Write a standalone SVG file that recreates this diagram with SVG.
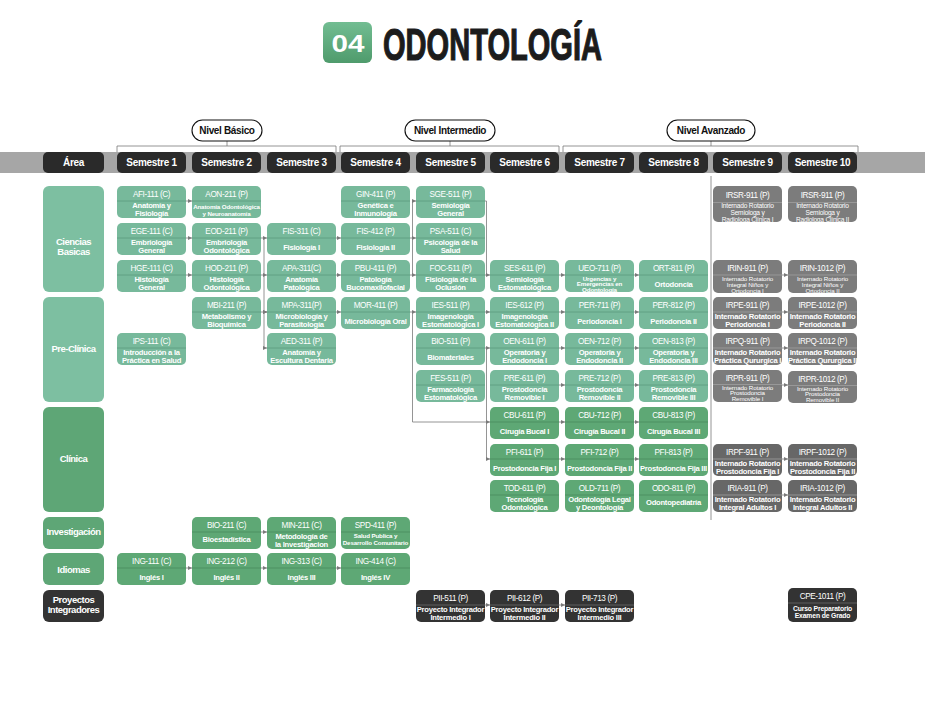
<svg xmlns="http://www.w3.org/2000/svg" width="925" height="715" viewBox="0 0 925 715">
<defs>
<linearGradient id="g04" x1="0" y1="0" x2="0" y2="1"><stop offset="0" stop-color="#72bd92"/><stop offset="1" stop-color="#4f9b6c"/></linearGradient>
<marker id="ar" markerWidth="4" markerHeight="4" refX="4" refY="2" orient="auto" markerUnits="userSpaceOnUse"><path d="M0,0 L4,2 L0,4 z" fill="#7a7a7a"/></marker>
<style>
text{font-family:"Liberation Sans",Arial,sans-serif;fill:#fff;text-anchor:middle}
.lg{fill:#77b99b}.dg{fill:#5ea875}.gy{fill:#7c7c7c}.gy2{fill:#676767}.dk{fill:#333}.hd{fill:#2a2a2a}
.al{fill:#7dbfa1}.ad{fill:#5ea676}
.dv{stroke:#5a9a7d;stroke-width:0.8}.dv2{stroke:#4a8a5e;stroke-width:0.8}.dvg{stroke:#a0a0a0;stroke-width:0.8}.dvk{stroke:#6a6a6a;stroke-width:0.8}
.cd{font-size:8.2px;letter-spacing:-0.4px}
.nm{font-size:7.6px;font-weight:bold;letter-spacing:-0.25px}
.sm{font-size:6.6px;letter-spacing:-0.2px}
.sm3{font-size:6.2px;letter-spacing:-0.1px}
.smb{font-size:6.2px;font-weight:bold;letter-spacing:-0.15px}
.ar{font-size:9.5px;font-weight:bold;letter-spacing:-0.5px}
.sh{font-size:10px;font-weight:bold;letter-spacing:-0.3px}
.nv{font-size:10px;font-weight:bold;letter-spacing:-0.35px;fill:#111}
.cn{stroke:#7a7a7a;stroke-width:0.8;fill:none}
.ca{stroke:#7a7a7a;stroke-width:0.8;fill:none;marker-end:url(#ar)}
</style>
</defs>
<rect width="925" height="715" fill="#fff"/>
<g id="title">
<rect x="323" y="22" width="49" height="41" rx="6" fill="url(#g04)"/>
<text x="348" y="51.7" font-size="24" font-weight="bold" textLength="33" lengthAdjust="spacingAndGlyphs">04</text>
<text x="383" y="60" font-size="44" font-weight="bold" style="fill:#1c1c1c;text-anchor:start" stroke="#1c1c1c" stroke-width="1.2" textLength="219" lengthAdjust="spacingAndGlyphs">ODONTOLOGÍA</text>
</g>
<g id="band"><rect x="0" y="152" width="925" height="21" fill="#a6a6a6"/></g>
<g id="levels">
<path class="cn" d="M117,152 V146 H336 V152 M227,141 V146 M340,152 V146 H559 V152 M450,141 V146 M563,152 V146 H858 V152 M711,141 V146 M711,176 V520"/>
<g id="nivel-basico"><rect x="192" y="120" width="70" height="21" rx="10.5" fill="#fff" stroke="#111" stroke-width="1.1"/><text class="nv" x="227" y="134.3">Nivel Básico</text></g>
<g id="nivel-intermedio"><rect x="405" y="120" width="90" height="21" rx="10.5" fill="#fff" stroke="#111" stroke-width="1.1"/><text class="nv" x="450" y="134.3">Nivel Intermedio</text></g>
<g id="nivel-avanzado"><rect x="667" y="120" width="88" height="21" rx="10.5" fill="#fff" stroke="#111" stroke-width="1.1"/><text class="nv" x="711" y="134.3">Nivel Avanzado</text></g>
</g>
<g id="headers">
<g id="h-area"><rect class="hd" x="43" y="152" width="61" height="21" rx="5"/><text class="sh" x="73.5" y="166.3">Área</text></g>
<g id="h-s1"><rect class="hd" x="117" y="152" width="69" height="21" rx="5"/><text class="sh" x="151.5" y="166.3">Semestre 1</text></g>
<g id="h-s2"><rect class="hd" x="192" y="152" width="69" height="21" rx="5"/><text class="sh" x="226.5" y="166.3">Semestre 2</text></g>
<g id="h-s3"><rect class="hd" x="267" y="152" width="69" height="21" rx="5"/><text class="sh" x="301.5" y="166.3">Semestre 3</text></g>
<g id="h-s4"><rect class="hd" x="341" y="152" width="69" height="21" rx="5"/><text class="sh" x="375.5" y="166.3">Semestre 4</text></g>
<g id="h-s5"><rect class="hd" x="416" y="152" width="69" height="21" rx="5"/><text class="sh" x="450.5" y="166.3">Semestre 5</text></g>
<g id="h-s6"><rect class="hd" x="490" y="152" width="69" height="21" rx="5"/><text class="sh" x="524.5" y="166.3">Semestre 6</text></g>
<g id="h-s7"><rect class="hd" x="565" y="152" width="69" height="21" rx="5"/><text class="sh" x="599.5" y="166.3">Semestre 7</text></g>
<g id="h-s8"><rect class="hd" x="639" y="152" width="69" height="21" rx="5"/><text class="sh" x="673.5" y="166.3">Semestre 8</text></g>
<g id="h-s9"><rect class="hd" x="713" y="152" width="69" height="21" rx="5"/><text class="sh" x="747.5" y="166.3">Semestre 9</text></g>
<g id="h-s10"><rect class="hd" x="788" y="152" width="69" height="21" rx="5"/><text class="sh" x="822.5" y="166.3">Semestre  10</text></g>
</g>
<g id="areas">
<g id="a-cb"><rect class="al" x="43" y="186" width="61" height="106" rx="6"/><text class="ar" x="73.5" y="244.6">Ciencias</text><text class="ar" x="73.5" y="255">Basicas</text></g>
<g id="a-pc"><rect class="al" x="43" y="297" width="61" height="105" rx="6"/><text class="ar" x="73.5" y="351.7">Pre-Clínica</text></g>
<g id="a-cl"><rect class="ad" x="43" y="407" width="61" height="105" rx="6"/><text class="ar" x="73.5" y="461.7">Clínica</text></g>
<g id="a-inv"><rect class="ad" x="43" y="517" width="61" height="32" rx="6"/><text class="ar" x="73.5" y="535.1">Investigación</text></g>
<g id="a-idi"><rect class="ad" x="43" y="553" width="61" height="32" rx="6"/><text class="ar" x="73.5" y="573.4">Idiomas</text></g>
<g id="a-pi"><rect class="dk" x="43" y="590" width="61" height="32" rx="6"/><text class="ar" x="73.5" y="603.4">Proyectos</text><text class="ar" x="73.5" y="612.6">Integradores</text></g>
</g>
<g id="connectors">
<path class="ca" d="M186,201 H192"/>
<path class="ca" d="M186,238 H192"/><path class="ca" d="M261,238 H267"/><path class="ca" d="M336,238 H341"/>
<path class="cn" d="M410,238 H412.5 M412.5,201 V275"/><path class="ca" d="M412.5,201 H416"/><path class="ca" d="M412.5,238 H416"/>
<path class="cn" d="M264,238 V348"/><path class="ca" d="M264,348 H267"/><path class="ca" d="M264,312 H267"/>
<path class="ca" d="M186,275 H192"/><path class="ca" d="M261,275 H267"/><path class="ca" d="M336,275 H341"/><path class="ca" d="M410,275 H416"/>
<path class="cn" d="M485,201 H486.5 V275"/><path class="ca" d="M485,275 H490"/><path class="ca" d="M559,275 H565"/><path class="ca" d="M634,275 H639"/><path class="ca" d="M782,275 H788"/>
<path class="ca" d="M261,312 H267"/><path class="ca" d="M336,312 H341"/>
<path class="cn" d="M410,312 H412.5 V422"/><path class="ca" d="M412.5,422 H490"/><path class="ca" d="M412.5,312 H416"/>
<path class="ca" d="M485,312 H490"/><path class="ca" d="M559,312 H565"/><path class="ca" d="M634,312 H639"/><path class="ca" d="M782,312 H788"/>
<path class="cn" d="M485,348 H486.5 V459"/><path class="ca" d="M486.5,348 H490"/><path class="ca" d="M486.5,459 H490"/>
<path class="ca" d="M559,348 H565"/><path class="ca" d="M634,348 H639"/><path class="ca" d="M782,348 H788"/>
<path class="ca" d="M559,385 H565"/><path class="ca" d="M634,385 H639"/><path class="ca" d="M782,385 H788"/>
<path class="ca" d="M559,422 H565"/><path class="ca" d="M634,422 H639"/>
<path class="ca" d="M559,459 H565"/><path class="ca" d="M634,459 H639"/><path class="ca" d="M782,459 H788"/>
<path class="ca" d="M782,495 H788"/>
<path class="ca" d="M261,532 H267"/>
<path class="ca" d="M186,568 H192"/><path class="ca" d="M261,568 H267"/><path class="ca" d="M336,568 H341"/>
<path class="ca" d="M485,605 H490"/><path class="ca" d="M559,605 H565"/>
</g>
<!-- Row 0 -->
<g id="AFI-111"><rect class="lg" x="117" y="186" width="69" height="32" rx="5"/><line class="dv" x1="117" y1="201" x2="186" y2="201"/><text class="cd" x="151.5" y="197.3">AFI-111 (C)</text><text class="nm" x="151.5" y="208.2">Anatomía y</text><text class="nm" x="151.5" y="215.9">Fisiología</text></g>
<g id="AON-211"><rect class="lg" x="192" y="186" width="69" height="32" rx="5"/><line class="dv" x1="192" y1="201" x2="261" y2="201"/><text class="cd" x="226.5" y="197.3">AON-211 (P)</text><text class="smb" x="226.5" y="208.5">Anatomía Odontológica</text><text class="smb" x="226.5" y="215.5">y Neuroanatomía</text></g>
<g id="GIN-411"><rect class="lg" x="341" y="186" width="69" height="32" rx="5"/><line class="dv" x1="341" y1="201" x2="410" y2="201"/><text class="cd" x="375.5" y="197.3">GIN-411 (P)</text><text class="nm" x="375.5" y="208.2">Genética e</text><text class="nm" x="375.5" y="215.9">Inmunología</text></g>
<g id="SGE-511"><rect class="lg" x="416" y="186" width="69" height="32" rx="5"/><line class="dv" x1="416" y1="201" x2="485" y2="201"/><text class="cd" x="450.5" y="197.3">SGE-511 (P)</text><text class="nm" x="450.5" y="208.2">Semiología</text><text class="nm" x="450.5" y="215.9">General</text></g>
<g id="IRSR-911"><rect class="gy" x="713" y="186" width="69" height="36" rx="5"/><line class="dvg" x1="713" y1="202.5" x2="782" y2="202.5"/><text class="cd" x="747.5" y="198">IRSR-911 (P)</text><text class="sm" x="747.5" y="207.6">Internado Rotatorio</text><text class="sm" x="747.5" y="214.6">Semiologa y</text><text class="sm" x="747.5" y="221.5">Radiologa Clínica I</text></g>
<g id="IRSR-911-b"><rect class="gy" x="788" y="186" width="69" height="36" rx="5"/><line class="dvg" x1="788" y1="202.5" x2="857" y2="202.5"/><text class="cd" x="822.5" y="198">IRSR-911 (P)</text><text class="sm" x="822.5" y="207.6">Internado Rotatorio</text><text class="sm" x="822.5" y="214.6">Semiologa y</text><text class="sm" x="822.5" y="221.5">Radiologa Clínica II</text></g>
<!-- Row 1 -->
<g id="EGE-111"><rect class="lg" x="117" y="223" width="69" height="32" rx="5"/><line class="dv" x1="117" y1="238" x2="186" y2="238"/><text class="cd" x="151.5" y="234.3">EGE-111 (C)</text><text class="nm" x="151.5" y="245.2">Embriología</text><text class="nm" x="151.5" y="252.9">General</text></g>
<g id="EOD-211"><rect class="lg" x="192" y="223" width="69" height="32" rx="5"/><line class="dv" x1="192" y1="238" x2="261" y2="238"/><text class="cd" x="226.5" y="234.3">EOD-211 (P)</text><text class="nm" x="226.5" y="245.2">Embriología</text><text class="nm" x="226.5" y="252.9">Odontológica</text></g>
<g id="FIS-311"><rect class="lg" x="267" y="223" width="69" height="32" rx="5"/><line class="dv" x1="267" y1="238" x2="336" y2="238"/><text class="cd" x="301.5" y="234.3">FIS-311 (C)</text><text class="nm" x="301.5" y="249.6">Fisiología I</text></g>
<g id="FIS-412"><rect class="lg" x="341" y="223" width="69" height="32" rx="5"/><line class="dv" x1="341" y1="238" x2="410" y2="238"/><text class="cd" x="375.5" y="234.3">FIS-412 (P)</text><text class="nm" x="375.5" y="249.6">Fisiología II</text></g>
<g id="PSA-511"><rect class="lg" x="416" y="223" width="69" height="32" rx="5"/><line class="dv" x1="416" y1="238" x2="485" y2="238"/><text class="cd" x="450.5" y="234.3">PSA-511 (C)</text><text class="nm" x="450.5" y="245.2">Psicología de la</text><text class="nm" x="450.5" y="252.9">Salud</text></g>
<!-- Row 2 -->
<g id="HGE-111"><rect class="lg" x="117" y="260" width="69" height="32" rx="5"/><line class="dv" x1="117" y1="275" x2="186" y2="275"/><text class="cd" x="151.5" y="271.3">HGE-111 (C)</text><text class="nm" x="151.5" y="282.2">Histología</text><text class="nm" x="151.5" y="289.9">General</text></g>
<g id="HOD-211"><rect class="lg" x="192" y="260" width="69" height="32" rx="5"/><line class="dv" x1="192" y1="275" x2="261" y2="275"/><text class="cd" x="226.5" y="271.3">HOD-211 (P)</text><text class="nm" x="226.5" y="282.2">Histología</text><text class="nm" x="226.5" y="289.9">Odontológica</text></g>
<g id="APA-311"><rect class="lg" x="267" y="260" width="69" height="32" rx="5"/><line class="dv" x1="267" y1="275" x2="336" y2="275"/><text class="cd" x="301.5" y="271.3">APA-311(C)</text><text class="nm" x="301.5" y="282.2">Anatomía</text><text class="nm" x="301.5" y="289.9">Patológica</text></g>
<g id="PBU-411"><rect class="lg" x="341" y="260" width="69" height="32" rx="5"/><line class="dv" x1="341" y1="275" x2="410" y2="275"/><text class="cd" x="375.5" y="271.3">PBU-411 (P)</text><text class="nm" x="375.5" y="282.2">Patología</text><text class="nm" x="375.5" y="289.9">Bucomaxilofacial</text></g>
<g id="FOC-511"><rect class="lg" x="416" y="260" width="69" height="32" rx="5"/><line class="dv" x1="416" y1="275" x2="485" y2="275"/><text class="cd" x="450.5" y="271.3">FOC-511 (P)</text><text class="nm" x="450.5" y="282.2">Fisiología de la</text><text class="nm" x="450.5" y="289.9">Oclusión</text></g>
<g id="SES-611"><rect class="lg" x="490" y="260" width="69" height="32" rx="5"/><line class="dv" x1="490" y1="275" x2="559" y2="275"/><text class="cd" x="524.5" y="271.3">SES-611 (P)</text><text class="nm" x="524.5" y="282.2">Semiología</text><text class="nm" x="524.5" y="289.9">Estomatológica</text></g>
<g id="UEO-711"><rect class="lg" x="565" y="260" width="69" height="32" rx="5"/><line class="dv" x1="565" y1="275" x2="634" y2="275"/><text class="cd" x="599.5" y="271.3">UEO-711 (P)</text><text class="smb" x="599.5" y="280.6">Urgencias y</text><text class="smb" x="599.5" y="286.3">Emergencias en</text><text class="smb" x="599.5" y="292">Odontología</text></g>
<g id="ORT-811"><rect class="lg" x="639" y="260" width="69" height="32" rx="5"/><line class="dv" x1="639" y1="275" x2="708" y2="275"/><text class="cd" x="673.5" y="271.3">ORT-811 (P)</text><text class="nm" x="673.5" y="286.6">Ortodoncia</text></g>
<g id="IRIN-911"><rect class="gy" x="713" y="260" width="69" height="33" rx="5"/><line class="dvg" x1="713" y1="275" x2="782" y2="275"/><text class="cd" x="747.5" y="271.3">IRIN-911 (P)</text><text class="sm3" x="747.5" y="280.9">Internado Rotatorio</text><text class="sm3" x="747.5" y="286.7">Integral Niños y</text><text class="sm3" x="747.5" y="292.5">Ortodoncia I</text></g>
<g id="IRIN-1012"><rect class="gy" x="788" y="260" width="69" height="33" rx="5"/><line class="dvg" x1="788" y1="275" x2="857" y2="275"/><text class="cd" x="822.5" y="271.3">IRIN-1012 (P)</text><text class="sm3" x="822.5" y="280.9">Internado Rotatorio</text><text class="sm3" x="822.5" y="286.7">Integral Niños y</text><text class="sm3" x="822.5" y="292.5">Ortodoncia II</text></g>
<!-- Row 3 -->
<g id="MBI-211"><rect class="lg" x="192" y="297" width="69" height="32" rx="5"/><line class="dv" x1="192" y1="312" x2="261" y2="312"/><text class="cd" x="226.5" y="308.3">MBI-211 (P)</text><text class="nm" x="226.5" y="319.2">Metabolismo y</text><text class="nm" x="226.5" y="326.9">Bioquímica</text></g>
<g id="MPA-311"><rect class="lg" x="267" y="297" width="69" height="32" rx="5"/><line class="dv" x1="267" y1="312" x2="336" y2="312"/><text class="cd" x="301.5" y="308.3">MPA-311(P)</text><text class="nm" x="301.5" y="319.2">Microbiología y</text><text class="nm" x="301.5" y="326.9">Parasitología</text></g>
<g id="MOR-411"><rect class="lg" x="341" y="297" width="69" height="32" rx="5"/><line class="dv" x1="341" y1="312" x2="410" y2="312"/><text class="cd" x="375.5" y="308.3">MOR-411 (P)</text><text class="nm" x="375.5" y="323.6">Microbiología Oral</text></g>
<g id="IES-511"><rect class="lg" x="416" y="297" width="69" height="32" rx="5"/><line class="dv" x1="416" y1="312" x2="485" y2="312"/><text class="cd" x="450.5" y="308.3">IES-511 (P)</text><text class="nm" x="450.5" y="319.2">Imagenología</text><text class="nm" x="450.5" y="326.9">Estomatológica I</text></g>
<g id="IES-612"><rect class="lg" x="490" y="297" width="69" height="32" rx="5"/><line class="dv" x1="490" y1="312" x2="559" y2="312"/><text class="cd" x="524.5" y="308.3">IES-612 (P)</text><text class="nm" x="524.5" y="319.2">Imagenología</text><text class="nm" x="524.5" y="326.9">Estomatológica II</text></g>
<g id="PER-711"><rect class="lg" x="565" y="297" width="69" height="32" rx="5"/><line class="dv" x1="565" y1="312" x2="634" y2="312"/><text class="cd" x="599.5" y="308.3">PER-711 (P)</text><text class="nm" x="599.5" y="323.6">Periodoncia I</text></g>
<g id="PER-812"><rect class="lg" x="639" y="297" width="69" height="32" rx="5"/><line class="dv" x1="639" y1="312" x2="708" y2="312"/><text class="cd" x="673.5" y="308.3">PER-812 (P)</text><text class="nm" x="673.5" y="323.6">Periodoncia II</text></g>
<g id="IRPE-911"><rect class="gy" x="713" y="297" width="69" height="32" rx="5"/><line class="dvg" x1="713" y1="312" x2="782" y2="312"/><text class="cd" x="747.5" y="308.3">IRPE-911 (P)</text><text class="nm" x="747.5" y="319.2">Internado Rotatorio</text><text class="nm" x="747.5" y="326.9">Periodoncia I</text></g>
<g id="IRPE-1012"><rect class="gy" x="788" y="297" width="69" height="32" rx="5"/><line class="dvg" x1="788" y1="312" x2="857" y2="312"/><text class="cd" x="822.5" y="308.3">IRPE-1012 (P)</text><text class="nm" x="822.5" y="319.2">Internado Rotatorio</text><text class="nm" x="822.5" y="326.9">Periodoncia II</text></g>
<!-- Row 4 -->
<g id="IPS-111"><rect class="lg" x="117" y="333" width="69" height="32" rx="5"/><line class="dv" x1="117" y1="348" x2="186" y2="348"/><text class="cd" x="151.5" y="344.3">IPS-111 (C)</text><text class="nm" x="151.5" y="355.2">Introducción a la</text><text class="nm" x="151.5" y="362.9">Práctica en Salud</text></g>
<g id="AED-311"><rect class="lg" x="267" y="333" width="69" height="32" rx="5"/><line class="dv" x1="267" y1="348" x2="336" y2="348"/><text class="cd" x="301.5" y="344.3">AED-311 (P)</text><text class="nm" x="301.5" y="355.2">Anatomía y</text><text class="nm" x="301.5" y="362.9">Escultura Dentaria</text></g>
<g id="BIO-511"><rect class="lg" x="416" y="333" width="69" height="32" rx="5"/><line class="dv" x1="416" y1="348" x2="485" y2="348"/><text class="cd" x="450.5" y="344.3">BIO-511 (P)</text><text class="nm" x="450.5" y="359.6">Biomateriales</text></g>
<g id="OEN-611"><rect class="lg" x="490" y="333" width="69" height="32" rx="5"/><line class="dv" x1="490" y1="348" x2="559" y2="348"/><text class="cd" x="524.5" y="344.3">OEN-611 (P)</text><text class="nm" x="524.5" y="355.2">Operatoria y</text><text class="nm" x="524.5" y="362.9">Endodoncia I</text></g>
<g id="OEN-712"><rect class="lg" x="565" y="333" width="69" height="32" rx="5"/><line class="dv" x1="565" y1="348" x2="634" y2="348"/><text class="cd" x="599.5" y="344.3">OEN-712 (P)</text><text class="nm" x="599.5" y="355.2">Operatoria y</text><text class="nm" x="599.5" y="362.9">Endodoncia II</text></g>
<g id="OEN-813"><rect class="lg" x="639" y="333" width="69" height="32" rx="5"/><line class="dv" x1="639" y1="348" x2="708" y2="348"/><text class="cd" x="673.5" y="344.3">OEN-813 (P)</text><text class="nm" x="673.5" y="355.2">Operatoria y</text><text class="nm" x="673.5" y="362.9">Endodoncia III</text></g>
<g id="IRPQ-911"><rect class="gy" x="713" y="333" width="69" height="32" rx="5"/><line class="dvg" x1="713" y1="348" x2="782" y2="348"/><text class="cd" x="747.5" y="344.3">IRPQ-911 (P)</text><text class="nm" x="747.5" y="355.2">Internado Rotatorio</text><text class="nm" x="747.5" y="362.9">Práctica Qururgica I</text></g>
<g id="IRPQ-1012"><rect class="gy" x="788" y="333" width="69" height="32" rx="5"/><line class="dvg" x1="788" y1="348" x2="857" y2="348"/><text class="cd" x="822.5" y="344.3">IRPQ-1012 (P)</text><text class="nm" x="822.5" y="355.2">Internado Rotatorio</text><text class="nm" x="822.5" y="362.9">Práctica Qururgica II</text></g>
<!-- Row 5 -->
<g id="FES-511"><rect class="lg" x="416" y="370" width="69" height="32" rx="5"/><line class="dv" x1="416" y1="385" x2="485" y2="385"/><text class="cd" x="450.5" y="381.3">FES-511 (P)</text><text class="nm" x="450.5" y="392.2">Farmacología</text><text class="nm" x="450.5" y="399.9">Estomatológica</text></g>
<g id="PRE-611"><rect class="lg" x="490" y="370" width="69" height="32" rx="5"/><line class="dv" x1="490" y1="385" x2="559" y2="385"/><text class="cd" x="524.5" y="381.3">PRE-611 (P)</text><text class="nm" x="524.5" y="392.2">Prostodoncia</text><text class="nm" x="524.5" y="399.9">Removible I</text></g>
<g id="PRE-712"><rect class="lg" x="565" y="370" width="69" height="32" rx="5"/><line class="dv" x1="565" y1="385" x2="634" y2="385"/><text class="cd" x="599.5" y="381.3">PRE-712 (P)</text><text class="nm" x="599.5" y="392.2">Prostodoncia</text><text class="nm" x="599.5" y="399.9">Removible II</text></g>
<g id="PRE-813"><rect class="lg" x="639" y="370" width="69" height="32" rx="5"/><line class="dv" x1="639" y1="385" x2="708" y2="385"/><text class="cd" x="673.5" y="381.3">PRE-813 (P)</text><text class="nm" x="673.5" y="392.2">Prostodoncia</text><text class="nm" x="673.5" y="399.9">Removible III</text></g>
<g id="IRPR-911"><rect class="gy" x="713" y="370" width="69" height="32" rx="5"/><line class="dvg" x1="713" y1="384.5" x2="782" y2="384.5"/><text class="cd" x="747.5" y="381">IRPR-911 (P)</text><text class="sm3" x="747.5" y="389.6">Internado Rotatorio</text><text class="sm3" x="747.5" y="395.4">Prostodoncia</text><text class="sm3" x="747.5" y="401.2">Removible I</text></g>
<g id="IRPR-1012"><rect class="gy" x="788" y="371" width="69" height="32" rx="5"/><line class="dvg" x1="788" y1="385.5" x2="857" y2="385.5"/><text class="cd" x="822.5" y="382">IRPR-1012 (P)</text><text class="sm3" x="822.5" y="390.6">Internado Rotatorio</text><text class="sm3" x="822.5" y="396.4">Prostodoncia</text><text class="sm3" x="822.5" y="402.2">Removible II</text></g>
<!-- Row 6 -->
<g id="CBU-611"><rect class="dg" x="490" y="407" width="69" height="32" rx="5"/><line class="dv2" x1="490" y1="422" x2="559" y2="422"/><text class="cd" x="524.5" y="418.3">CBU-611 (P)</text><text class="nm" x="524.5" y="433.6">Cirugía Bucal I</text></g>
<g id="CBU-712"><rect class="dg" x="565" y="407" width="69" height="32" rx="5"/><line class="dv2" x1="565" y1="422" x2="634" y2="422"/><text class="cd" x="599.5" y="418.3">CBU-712 (P)</text><text class="nm" x="599.5" y="433.6">Cirugía Bucal II</text></g>
<g id="CBU-813"><rect class="dg" x="639" y="407" width="69" height="32" rx="5"/><line class="dv2" x1="639" y1="422" x2="708" y2="422"/><text class="cd" x="673.5" y="418.3">CBU-813 (P)</text><text class="nm" x="673.5" y="433.6">Cirugía Bucal III</text></g>
<!-- Row 7 -->
<g id="PFI-611"><rect class="dg" x="490" y="444" width="69" height="32" rx="5"/><line class="dv2" x1="490" y1="459" x2="559" y2="459"/><text class="cd" x="524.5" y="455.3">PFI-611 (P)</text><text class="nm" x="524.5" y="470.6">Prostodoncia Fija I</text></g>
<g id="PFI-712"><rect class="dg" x="565" y="444" width="69" height="32" rx="5"/><line class="dv2" x1="565" y1="459" x2="634" y2="459"/><text class="cd" x="599.5" y="455.3">PFI-712 (P)</text><text class="nm" x="599.5" y="470.6">Prostodoncia Fija II</text></g>
<g id="PFI-813"><rect class="dg" x="639" y="444" width="69" height="32" rx="5"/><line class="dv2" x1="639" y1="459" x2="708" y2="459"/><text class="cd" x="673.5" y="455.3">PFI-813 (P)</text><text class="nm" x="673.5" y="470.6">Prostodoncia Fija III</text></g>
<g id="IRPF-911"><rect class="gy2" x="713" y="444" width="69" height="32" rx="5"/><line class="dvg" x1="713" y1="459" x2="782" y2="459"/><text class="cd" x="747.5" y="455.3">IRPF-911 (P)</text><text class="nm" x="747.5" y="466.2">Internado Rotatorio</text><text class="nm" x="747.5" y="473.9">Prostodoncia Fija I</text></g>
<g id="IRPF-1012"><rect class="gy2" x="788" y="444" width="69" height="32" rx="5"/><line class="dvg" x1="788" y1="459" x2="857" y2="459"/><text class="cd" x="822.5" y="455.3">IRPF-1012 (P)</text><text class="nm" x="822.5" y="466.2">Internado Rotatorio</text><text class="nm" x="822.5" y="473.9">Prostodoncia Fija II</text></g>
<!-- Row 8 -->
<g id="TOD-611"><rect class="dg" x="490" y="480" width="69" height="32" rx="5"/><line class="dv2" x1="490" y1="495" x2="559" y2="495"/><text class="cd" x="524.5" y="491.3">TOD-611 (P)</text><text class="nm" x="524.5" y="502.2">Tecnología</text><text class="nm" x="524.5" y="509.9">Odontológica</text></g>
<g id="OLD-711"><rect class="dg" x="565" y="480" width="69" height="32" rx="5"/><line class="dv2" x1="565" y1="495" x2="634" y2="495"/><text class="cd" x="599.5" y="491.3">OLD-711 (P)</text><text class="nm" x="599.5" y="502.2">Odontología Legal</text><text class="nm" x="599.5" y="509.9">y Deontología</text></g>
<g id="ODO-811"><rect class="dg" x="639" y="480" width="69" height="32" rx="5"/><line class="dv2" x1="639" y1="495" x2="708" y2="495"/><text class="cd" x="673.5" y="491.3">ODO-811 (P)</text><text class="nm" x="673.5" y="505">Odontopediatría</text></g>
<g id="IRIA-911"><rect class="gy2" x="713" y="480" width="69" height="32" rx="5"/><line class="dvg" x1="713" y1="495" x2="782" y2="495"/><text class="cd" x="747.5" y="491.3">IRIA-911 (P)</text><text class="nm" x="747.5" y="502.2">Internado Rotatorio</text><text class="nm" x="747.5" y="509.9">Integral Adultos I</text></g>
<g id="IRIA-1012"><rect class="gy2" x="788" y="480" width="69" height="32" rx="5"/><line class="dvg" x1="788" y1="495" x2="857" y2="495"/><text class="cd" x="822.5" y="491.3">IRIA-1012 (P)</text><text class="nm" x="822.5" y="502.2">Internado Rotatorio</text><text class="nm" x="822.5" y="509.9">Integral Adultos II</text></g>
<!-- Row 9 -->
<g id="BIO-211"><rect class="dg" x="192" y="517" width="69" height="32" rx="5"/><line class="dv2" x1="192" y1="532" x2="261" y2="532"/><text class="cd" x="226.5" y="528.3">BIO-211 (C)</text><text class="nm" x="226.5" y="542">Bioestadística</text></g>
<g id="MIN-211"><rect class="dg" x="267" y="517" width="69" height="32" rx="5"/><line class="dv2" x1="267" y1="532" x2="336" y2="532"/><text class="cd" x="301.5" y="528.3">MIN-211 (C)</text><text class="nm" x="301.5" y="539.2">Metodología de</text><text class="nm" x="301.5" y="546.9">la Investigacion</text></g>
<g id="SPD-411"><rect class="dg" x="341" y="517" width="69" height="32" rx="5"/><line class="dv2" x1="341" y1="532" x2="410" y2="532"/><text class="cd" x="375.5" y="528.3">SPD-411 (P)</text><text class="smb" x="375.5" y="537.8">Salud Publica y</text><text class="smb" x="375.5" y="544.6">Desarrollo Comunitario</text></g>
<!-- Row 10 -->
<g id="ING-111"><rect class="dg" x="117" y="553" width="69" height="32" rx="5"/><line class="dv2" x1="117" y1="568" x2="186" y2="568"/><text class="cd" x="151.5" y="564.3">ING-111 (C)</text><text class="nm" x="151.5" y="579.6">Inglés I</text></g>
<g id="ING-212"><rect class="dg" x="192" y="553" width="69" height="32" rx="5"/><line class="dv2" x1="192" y1="568" x2="261" y2="568"/><text class="cd" x="226.5" y="564.3">ING-212 (C)</text><text class="nm" x="226.5" y="579.6">Inglés II</text></g>
<g id="ING-313"><rect class="dg" x="267" y="553" width="69" height="32" rx="5"/><line class="dv2" x1="267" y1="568" x2="336" y2="568"/><text class="cd" x="301.5" y="564.3">ING-313 (C)</text><text class="nm" x="301.5" y="579.6">Inglés III</text></g>
<g id="ING-414"><rect class="dg" x="341" y="553" width="69" height="32" rx="5"/><line class="dv2" x1="341" y1="568" x2="410" y2="568"/><text class="cd" x="375.5" y="564.3">ING-414 (C)</text><text class="nm" x="375.5" y="579.6">Inglés IV</text></g>
<!-- Row 11 -->
<g id="PII-511"><rect class="dk" x="416" y="590" width="69" height="32" rx="5"/><line class="dvk" x1="416" y1="605" x2="485" y2="605"/><text class="cd" x="450.5" y="601.3">PII-511 (P)</text><text class="nm" x="450.5" y="612.2">Proyecto Integrador</text><text class="nm" x="450.5" y="619.9">Intermedio I</text></g>
<g id="PII-612"><rect class="dk" x="490" y="590" width="69" height="32" rx="5"/><line class="dvk" x1="490" y1="605" x2="559" y2="605"/><text class="cd" x="524.5" y="601.3">PII-612 (P)</text><text class="nm" x="524.5" y="612.2">Proyecto Integrador</text><text class="nm" x="524.5" y="619.9">Intermedio II</text></g>
<g id="PII-713"><rect class="dk" x="565" y="590" width="69" height="32" rx="5"/><line class="dvk" x1="565" y1="605" x2="634" y2="605"/><text class="cd" x="599.5" y="601.3">PII-713 (P)</text><text class="nm" x="599.5" y="612.2">Proyecto Integrador</text><text class="nm" x="599.5" y="619.9">Intermedio III</text></g>
<g id="CPE-1011"><rect class="dk" x="788" y="588" width="69" height="34" rx="5"/><line class="dvk" x1="788" y1="603" x2="857" y2="603"/><text class="cd" x="822.5" y="599.3">CPE-1011 (P)</text><text class="smb" x="822.5" y="610.8" style="font-size:6.8px">Curso Preparatorio</text><text class="smb" x="822.5" y="618.4" style="font-size:6.8px">Examen de Grado</text></g>
</svg>
